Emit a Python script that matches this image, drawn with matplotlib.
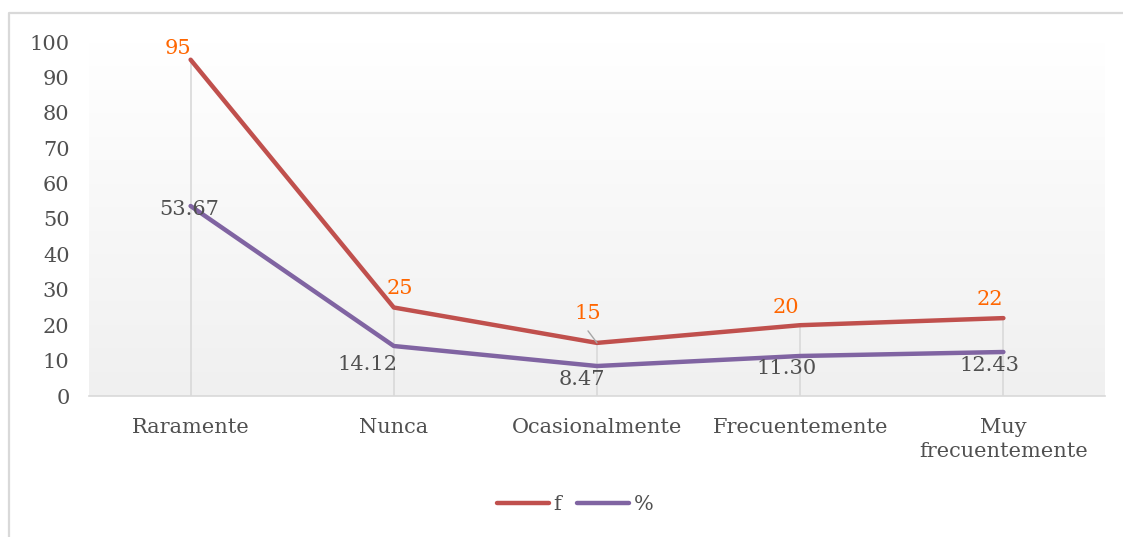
import numpy as np
import matplotlib
matplotlib.use('Agg')
import matplotlib.pyplot as plt
from matplotlib.lines import Line2D

plt.rcParams['font.family'] = ['DejaVu Serif']

categories = ['Raramente', 'Nunca', 'Ocasionalmente', 'Frecuentemente', 'Muy\nfrecuentemente']
f_values = [95, 25, 15, 20, 22]
pct_values = [53.67, 14.12, 8.47, 11.30, 12.43]
y_ticks = [0, 10, 20, 30, 40, 50, 60, 70, 80, 90, 100]

# label offsets in pixels (Excel style placement), converted to points below
f_offsets = [(-13, 11), (6, 19), (-9, 29), (-14, 18), (-14, 19)]
pct_offsets = [(-1, -3), (-26, -18), (-15, -13), (-14, -13), (-14, -14)]
PX = 0.72

red = '#C0504D'
purple = '#8064A2'
label_gray = '#505050'
orange = '#FF6600'

fig = plt.figure(figsize=(11.23, 5.37), dpi=100)
W, H = 1123, 537

# outer chart border (only top and left edges fall inside the image)
fig.lines.append(Line2D([8.5 / W, 8.5 / W, 1.05], [-0.05, 1 - 12.5 / H, 1 - 12.5 / H],
                        transform=fig.transFigure, color='#D9D9D9', linewidth=1.6))

ax = fig.add_axes([89 / W, 1 - 396 / H, (1105 - 89) / W, (396 - 42) / H])
x = np.arange(len(categories))
ax.set_xlim(-0.5, len(categories) - 0.5)
ax.set_ylim(0, 100)

# gradient background of plot area
grad = np.linspace(0, 1, 256).reshape(-1, 1)
cmap = matplotlib.colors.LinearSegmentedColormap.from_list('g', ['#F0F0F0', '#FFFFFF'])
ax.imshow(grad, cmap=cmap, aspect='auto', extent=[0, 1, 0, 1],
          transform=ax.transAxes, origin='lower', zorder=0)

# drop lines
ax.vlines(x, 0, np.maximum(f_values, pct_values), color='#D9D9D9', linewidth=1.2, zorder=1)

ax.plot(x, f_values, color=red, linewidth=3.2, solid_capstyle='round', zorder=3)
ax.plot(x, pct_values, color=purple, linewidth=3.2, solid_capstyle='round', zorder=3)

for xi, v, off in zip(x, f_values, f_offsets):
    ax.annotate(str(v), (xi, v), xytext=(off[0] * PX, off[1] * PX), textcoords='offset points',
                ha='center', va='center', color=orange, fontsize=15, zorder=4)
# leader line for "15"
ax.annotate('', (x[2], f_values[2]), xytext=(-9 * PX, 12 * PX), textcoords='offset points',
            arrowprops=dict(arrowstyle='-', color='#A6A6A6', lw=1, shrinkA=0, shrinkB=0), zorder=4)

for xi, v, off in zip(x, pct_values, pct_offsets):
    ax.annotate(f'{v:.2f}', (xi, v), xytext=(off[0] * PX, off[1] * PX), textcoords='offset points',
                ha='center', va='center', color=label_gray, fontsize=15, zorder=4)

for s in ['top', 'right', 'left']:
    ax.spines[s].set_visible(False)
ax.spines['bottom'].set_color('#D9D9D9')
ax.spines['bottom'].set_linewidth(1.2)

ax.set_yticks(y_ticks)
ax.set_xticks(x)
ax.set_xticklabels(categories, linespacing=1.35)
ax.tick_params(axis='both', length=0, labelsize=15, labelcolor=label_gray)
ax.tick_params(axis='x', pad=16)
ax.tick_params(axis='y', pad=14)

handles = [Line2D([], [], color=red, linewidth=3.2, solid_capstyle='round'),
           Line2D([], [], color=purple, linewidth=3.2, solid_capstyle='round')]
fig.legend(handles, ['f', '%'], loc='center', bbox_to_anchor=(575 / W, 1 - 505 / H), ncol=2,
           frameon=False, fontsize=15, labelcolor=label_gray, handlelength=2.5,
           handletextpad=0.2, columnspacing=0.8)

fig.savefig('out.png', dpi=100)
